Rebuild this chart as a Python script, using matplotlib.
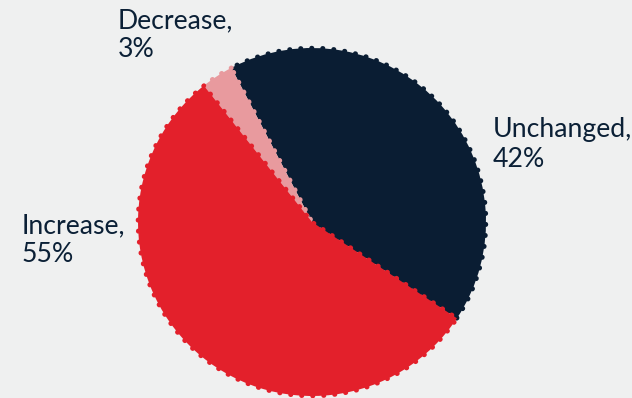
import matplotlib
matplotlib.use("Agg")
import matplotlib.pyplot as plt

# Survey outcome shares
categories = ["Unchanged", "Decrease", "Increase"]
shares = [42, 3, 55]
colors = ["#0a1d33", "#e89a9e", "#e3202b"]

bg = "#eff0f0"
text_color = "#0b2036"

W, H, DPI = 632, 398, 100
fig = plt.figure(figsize=(W / DPI, H / DPI), dpi=DPI, facecolor=bg)
ax = fig.add_axes([0, 0, 1, 1])
ax.set_facecolor(bg)

lw_px = 4.6
wedges, _ = ax.pie(
    shares,
    colors=colors,
    startangle=-33.6,
    counterclock=True,
    radius=1,
    wedgeprops=dict(linewidth=lw_px * 72 / DPI, linestyle=(0, (0.1, 2.3))),
)
for w, c in zip(wedges, colors):
    w.set_edgecolor(c)
    w.set_capstyle("round")
    w.set_joinstyle("round")

# pixel-based frame: pie centre and radius in pixels
cx, cy_top, r_px = 312, 222, 174
cy = H - cy_top
ax.set_aspect("auto")
ax.set_xlim(-cx / r_px, (W - cx) / r_px)
ax.set_ylim(-cy / r_px, (H - cy) / r_px)
ax.axis("off")


def px(x, y):
    return (x - cx) / r_px, (H - y - cy) / r_px


labels = {
    "Decrease": (118, 28, 57),
    "Unchanged": (493, 137, 167),
    "Increase": (22, 233, 262),
}
for name, val in zip(categories, shares):
    x, b1, b2 = labels[name]
    for s, b in ((f"{name},", b1), (f"{val}%", b2)):
        ax.text(*px(x, b), s, ha="left", va="baseline", fontsize=19.2,
                family="Lato", color=text_color)

fig.savefig("out.png", dpi=DPI, facecolor=bg)
